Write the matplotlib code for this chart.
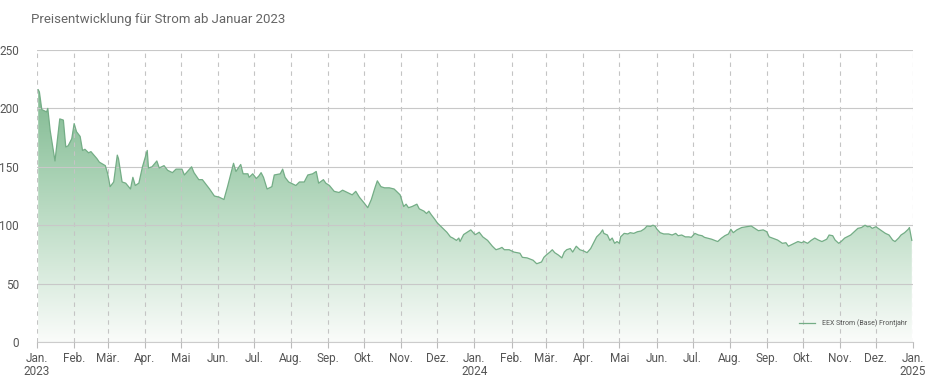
import numpy as np
import pandas as pd
import matplotlib
matplotlib.use('Agg')
import matplotlib.pyplot as plt
import matplotlib.dates as mdates
from matplotlib import font_manager
from matplotlib.colors import LinearSegmentedColormap
from matplotlib.patches import PathPatch
from matplotlib.path import Path

# pick a narrow font if it is there
font = 'DejaVu Sans'
for name in ['Liberation Sans Narrow', 'Roboto', 'Liberation Sans']:
    try:
        font_manager.findfont(name, fallback_to_default=False)
        font = name
        break
    except ValueError:
        pass
plt.rcParams['font.family'] = [font, 'DejaVu Sans']

# EEX Strom (Base) Frontjahr, EUR/MWh
dates_2023 = ['2023-01-02', '2023-01-03', '2023-01-05', '2023-01-09', '2023-01-10', '2023-01-12',
              '2023-01-16', '2023-01-20', '2023-01-23', '2023-01-25', '2023-01-27', '2023-01-30',
              '2023-02-01', '2023-02-03', '2023-02-06', '2023-02-08', '2023-02-10', '2023-02-13',
              '2023-02-15', '2023-02-20', '2023-02-22', '2023-02-27', '2023-03-01', '2023-03-03',
              '2023-03-06', '2023-03-09', '2023-03-10', '2023-03-13', '2023-03-16', '2023-03-20',
              '2023-03-22', '2023-03-24', '2023-03-27', '2023-03-30', '2023-04-03', '2023-04-04',
              '2023-04-07', '2023-04-11', '2023-04-13', '2023-04-17', '2023-04-20', '2023-04-24',
              '2023-04-27', '2023-05-02', '2023-05-04', '2023-05-10', '2023-05-12', '2023-05-16',
              '2023-05-19', '2023-05-25', '2023-05-29', '2023-06-02', '2023-06-06', '2023-06-09',
              '2023-06-14', '2023-06-16', '2023-06-20', '2023-06-22', '2023-06-26', '2023-06-27',
              '2023-06-30', '2023-07-03', '2023-07-05', '2023-07-07', '2023-07-09', '2023-07-12',
              '2023-07-16', '2023-07-18', '2023-07-23', '2023-07-25', '2023-07-27', '2023-07-30',
              '2023-08-01', '2023-08-05', '2023-08-08', '2023-08-12', '2023-08-15', '2023-08-19',
              '2023-08-22', '2023-08-24', '2023-08-28', '2023-08-30', '2023-09-02', '2023-09-06',
              '2023-09-10', '2023-09-13', '2023-09-17', '2023-09-21', '2023-09-24', '2023-09-27',
              '2023-10-01', '2023-10-04', '2023-10-07', '2023-10-10', '2023-10-12', '2023-10-15',
              '2023-10-18', '2023-10-22', '2023-10-26', '2023-10-31', '2023-11-03', '2023-11-05',
              '2023-11-07', '2023-11-10', '2023-11-14', '2023-11-16', '2023-11-20', '2023-11-22',
              '2023-11-24', '2023-11-26', '2023-11-29', '2023-12-01', '2023-12-03', '2023-12-06',
              '2023-12-09', '2023-12-12', '2023-12-14', '2023-12-17', '2023-12-19', '2023-12-20',
              '2023-12-23', '2023-12-26', '2023-12-29']
prices_2023 = [216, 214, 199, 197, 200, 181,
               155, 191, 190, 167, 168, 174,
               187, 180, 176, 164, 165, 162,
               163, 157, 154, 151, 144, 133,
               137, 160, 157, 137, 136, 131,
               141, 134, 136, 150, 164, 149,
               150, 155, 149, 151, 147, 145,
               148, 148, 143, 150, 145, 139,
               139, 131, 125, 124, 122, 133,
               153, 146, 152, 144, 144, 141,
               144, 140, 142, 145, 141, 131,
               133, 143, 144, 148, 141, 137,
               136, 134, 137, 137, 143, 144,
               146, 136, 139, 136, 134, 129,
               128, 130, 128, 126, 129, 124,
               119, 115, 122, 132, 138, 133,
               132, 132, 131, 126, 116, 118,
               115, 116, 118, 114, 112, 110,
               112, 109, 105, 102, 100, 97,
               94, 90, 89, 87, 89, 86,
               92, 94, 96]

dates_2024 = ['2024-01-01', '2024-01-02', '2024-01-05', '2024-01-08', '2024-01-12', '2024-01-16',
              '2024-01-19', '2024-01-22', '2024-01-24', '2024-01-26', '2024-01-30', '2024-02-03',
              '2024-02-08', '2024-02-10', '2024-02-14', '2024-02-19', '2024-02-22', '2024-02-26',
              '2024-02-28', '2024-03-01', '2024-03-04', '2024-03-06', '2024-03-08', '2024-03-11',
              '2024-03-14', '2024-03-16', '2024-03-18', '2024-03-21', '2024-03-23', '2024-03-26',
              '2024-03-29', '2024-04-01', '2024-04-04', '2024-04-07', '2024-04-10', '2024-04-12',
              '2024-04-15', '2024-04-17', '2024-04-18', '2024-04-21', '2024-04-23', '2024-04-25',
              '2024-04-27', '2024-04-29', '2024-05-01', '2024-05-02', '2024-05-05', '2024-05-08',
              '2024-05-10', '2024-05-13', '2024-05-16', '2024-05-19', '2024-05-22', '2024-05-24',
              '2024-05-27', '2024-05-29', '2024-05-31', '2024-06-01', '2024-06-04', '2024-06-07',
              '2024-06-11', '2024-06-14', '2024-06-17', '2024-06-19', '2024-06-22', '2024-06-25',
              '2024-06-28', '2024-06-30', '2024-07-03', '2024-07-06', '2024-07-09', '2024-07-11',
              '2024-07-14', '2024-07-17', '2024-07-20', '2024-07-22', '2024-07-25', '2024-07-28',
              '2024-07-31', '2024-08-02', '2024-08-04', '2024-08-07', '2024-08-11', '2024-08-15',
              '2024-08-19', '2024-08-22', '2024-08-25', '2024-08-29', '2024-09-01', '2024-09-03',
              '2024-09-06', '2024-09-10', '2024-09-14', '2024-09-17', '2024-09-19', '2024-09-21',
              '2024-09-24', '2024-09-27', '2024-09-30', '2024-10-02', '2024-10-05', '2024-10-08',
              '2024-10-11', '2024-10-14', '2024-10-17', '2024-10-21', '2024-10-23', '2024-10-26',
              '2024-10-28', '2024-10-31', '2024-11-02', '2024-11-05', '2024-11-07', '2024-11-10',
              '2024-11-13', '2024-11-16', '2024-11-19', '2024-11-22', '2024-11-24', '2024-11-26',
              '2024-11-28', '2024-12-01', '2024-12-04', '2024-12-07', '2024-12-09', '2024-12-12',
              '2024-12-15', '2024-12-17', '2024-12-20', '2024-12-22', '2024-12-25', '2024-12-28',
              '2024-12-29', '2024-12-31']
prices_2024 = [92.5, 92, 94, 90, 87, 82,
               79, 80, 81, 79, 79, 77,
               76, 72.5, 72, 70, 67, 68.5,
               72.5, 74.5, 77, 79, 76.5, 74.5,
               72, 77, 79, 80, 77, 82,
               79, 78, 76.5, 80, 86, 90,
               93, 96, 93, 91.6, 87, 89,
               84.5, 86, 84.5, 90, 93, 92.5,
               93.6, 93, 94.4, 95, 97, 99.3,
               99, 100, 99, 97, 93.6, 92.5,
               92.5, 91.6, 93, 91, 91.6, 90,
               90, 89.6, 93, 91.6, 91, 89.6,
               88.8, 88, 86.8, 86, 88.8, 91,
               92.5, 96.5, 93.6, 96, 98, 98.7,
               99.3, 97.3, 95.3, 96, 94.4, 90,
               88.8, 87.3, 84.5, 85, 82, 83,
               84.5, 86, 85, 86, 84.5, 87,
               89, 87.3, 86, 88, 91.6, 91,
               87.3, 84.5, 86, 89, 90, 91.6,
               94.4, 97.3, 98, 100, 98.7, 99,
               97.3, 98.7, 96.5, 94.4, 93, 91.6,
               87.3, 86, 89, 91.6, 93.6, 96.5,
               98, 87]

month_names = ['Jan.', 'Feb.', 'Mär.', 'Apr.', 'Mai', 'Jun.', 'Jul.', 'Aug.',
               'Sep.', 'Okt.', 'Nov.', 'Dez.']
y_ticks = [0, 50, 100, 150, 200, 250]

df = pd.DataFrame({'date': pd.to_datetime(dates_2023 + dates_2024),
                   'price': prices_2023 + prices_2024})

fig = plt.figure(figsize=(9.3, 3.85), dpi=100)
ax = fig.add_axes([37 / 930, 1 - 342 / 385, 876 / 930, 292 / 385])

x = mdates.date2num(df['date'])
y = df['price'].values
x0 = mdates.date2num(pd.Timestamp('2023-01-01'))
x1 = mdates.date2num(pd.Timestamp('2025-01-01'))

# gradient fill under the curve
cmap = LinearSegmentedColormap.from_list('g', ['#fafcfa', '#cfe6d5', '#a4cfb0', '#7cb68d'])
grad = np.linspace(0, 1, 256).reshape(-1, 1)
im = ax.imshow(grad, extent=[x0, x1, 0, 225], origin='lower', aspect='auto',
               cmap=cmap, zorder=1, interpolation='bicubic')
verts = np.vstack([[x[0], 0], np.column_stack([x, y]), [x[-1], 0]])
poly = PathPatch(Path(verts), facecolor='none', edgecolor='none')
ax.add_patch(poly)
im.set_clip_path(poly)

ax.plot(x, y, color='#74ad86', linewidth=0.9, zorder=4, label='EEX Strom (Base) Frontjahr')

ax.set_xlim(x0, x1)
ax.set_ylim(0, 250)

# month ticks
months = pd.date_range('2023-01-01', '2025-01-01', freq='MS')
labels = []
for m in months:
    lab = month_names[m.month - 1]
    if m.month == 1:
        lab += '\n' + str(m.year)
    labels.append(lab)
ax.set_xticks(mdates.date2num(months))
ax.set_xticklabels(labels, fontsize=8.5, color='#555555', linespacing=1.0)
ax.set_yticks(y_ticks)
ax.set_yticklabels([str(v) for v in y_ticks], fontsize=8.5, color='#555555')

ax.tick_params(axis='x', length=4, color='#bbbbbb', width=0.8, pad=3)
ax.tick_params(axis='y', length=0, pad=13)

ax.grid(axis='y', color='#c8c8c8', linewidth=0.8, zorder=3)
ax.grid(axis='x', color='#c4c4c4', linewidth=0.8, linestyle=(0, (4, 4)), zorder=3)
ax.set_axisbelow(False)

for s in ['top', 'right', 'left']:
    ax.spines[s].set_visible(False)
ax.spines['bottom'].set_color('#cccccc')
ax.spines['bottom'].set_linewidth(0.8)

fig.text(31 / 930, 1 - 20 / 385, 'Preisentwicklung für Strom ab Januar 2023',
         fontsize=9.5, color='#666666', va='center', ha='left')

leg = ax.legend(loc='lower right', bbox_to_anchor=(1.0, 0.03), frameon=False,
                fontsize=5, handlelength=2.4, handletextpad=0.9)
for t in leg.get_texts():
    t.set_color('#555555')

fig.savefig('out.png', dpi=100)
